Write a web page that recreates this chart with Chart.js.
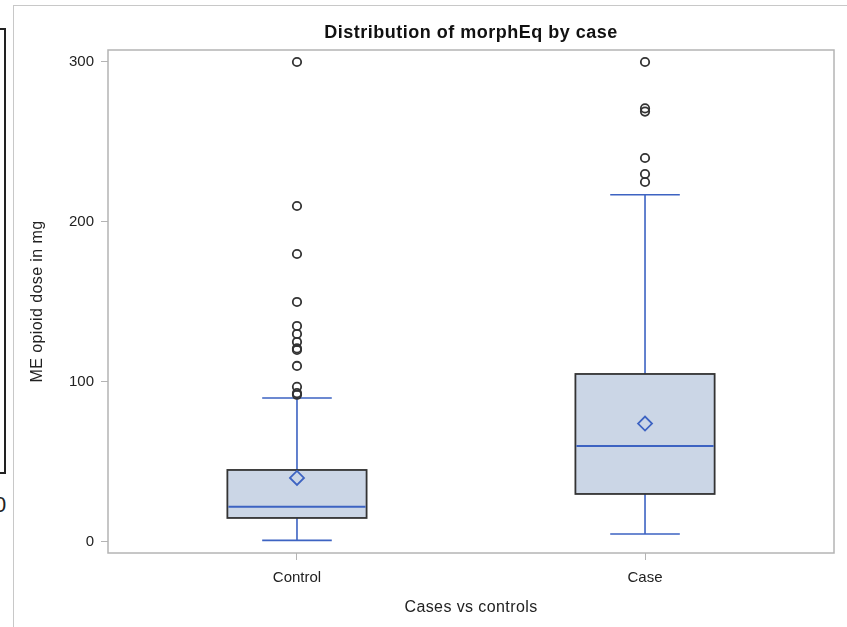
<!DOCTYPE html>
<html>
<head>
<meta charset="utf-8">
<script src="https://cdn.jsdelivr.net/npm/chart.js@4/dist/chart.umd.min.js"></script>
<style>
  html, body { margin: 0; padding: 0; background: #fff; }
  #wrap { position: relative; width: 847px; height: 627px; overflow: hidden; }
  #frameTop { position: absolute; left: 13px; top: 5px; right: 0; height: 1px; background: #c8c8c8; }
  #frameLeft { position: absolute; left: 13px; top: 5px; bottom: 0; width: 1px; background: #c8c8c8; }
  #sideBox { position: absolute; left: -4px; top: 28px; width: 6px; height: 442px; border: 2px solid #222; }
  #sideZero { position: absolute; left: -6px; top: 492px; font: 22px "Liberation Sans", Arial, sans-serif; color: #222; }
  #c { position: absolute; left: 0; top: 0; }
</style>
</head>
<body>
<div id="wrap">
  <div id="frameTop"></div>
  <div id="frameLeft"></div>
  <div id="sideBox"></div>
  <div id="sideZero">0</div>
  <canvas id="c" width="847" height="627"></canvas>
</div>
<script>
// data
var categories = ['Control', 'Case'];
var whiskerLow = [1, 5];
var q1 = [15, 30];
var median = [22, 60];
var q3 = [45, 105];
var whiskerHigh = [90, 217];
var means = [40, 74];
var outliersControl = [92, 93, 97, 110, 120, 121, 125, 130, 135, 150, 180, 210, 300];
var outliersCase = [225, 230, 240, 269, 271, 300];
var yTicks = [0, 100, 200, 300];

var chartTitle = 'Distribution of morphEq by case';
var xTitle = 'Cases vs controls';
var yTitle = 'ME opioid dose in mg';

var FONT = '"Liberation Sans", Arial, sans-serif';

var outlierPoints = [];
outliersControl.forEach(function(v){ outlierPoints.push({x: 1, y: v}); });
outliersCase.forEach(function(v){ outlierPoints.push({x: 2, y: v}); });
var meanPoints = means.map(function(v, i){ return {x: i + 1, y: v}; });

// boxes and whiskers drawn through the chart scales
var boxPlugin = {
	id: 'boxes',
	beforeDatasetsDraw: function(chart){
		var ctx = chart.ctx;
		var xs = chart.scales.x, ys = chart.scales.y;
		var area = chart.chartArea;

		ctx.save();
		// plot frame
		ctx.strokeStyle = '#b4b4b4';
		ctx.lineWidth = 1.5;
		ctx.strokeRect(area.left, area.top, area.right - area.left, area.bottom - area.top);

		for (var i = 0; i < categories.length; i++){
			var cx = xs.getPixelForValue(i + 1);
			var l = xs.getPixelForValue(i + 1 - 0.2), r = xs.getPixelForValue(i + 1 + 0.2);
			var cl = xs.getPixelForValue(i + 1 - 0.1), cr = xs.getPixelForValue(i + 1 + 0.1);
			var yLo = ys.getPixelForValue(whiskerLow[i]);
			var yQ1 = ys.getPixelForValue(q1[i]);
			var yMed = ys.getPixelForValue(median[i]);
			var yQ3 = ys.getPixelForValue(q3[i]);
			var yHi = ys.getPixelForValue(whiskerHigh[i]);

			ctx.strokeStyle = '#3d63c2';
			ctx.lineWidth = 1.6;
			ctx.beginPath();
			ctx.moveTo(cx, yLo); ctx.lineTo(cx, yQ1);
			ctx.moveTo(cx, yQ3); ctx.lineTo(cx, yHi);
			ctx.moveTo(cl, yLo); ctx.lineTo(cr, yLo);
			ctx.moveTo(cl, yHi); ctx.lineTo(cr, yHi);
			ctx.stroke();

			ctx.fillStyle = '#cbd6e6';
			ctx.fillRect(l, yQ3, r - l, yQ1 - yQ3);
			ctx.strokeStyle = '#333333';
			ctx.lineWidth = 1.8;
			ctx.strokeRect(l, yQ3, r - l, yQ1 - yQ3);

			ctx.strokeStyle = '#3d63c2';
			ctx.lineWidth = 2;
			ctx.beginPath();
			ctx.moveTo(l + 1, yMed); ctx.lineTo(r - 1, yMed);
			ctx.stroke();
		}
		ctx.restore();
	}
};

// titles centred on the plot area like SAS does
var titlePlugin = {
	id: 'sasTitles',
	afterDraw: function(chart){
		var ctx = chart.ctx;
		var area = chart.chartArea;
		var mid = (area.left + area.right) / 2;

		ctx.save();
		ctx.fillStyle = '#111';
		ctx.textAlign = 'center';
		ctx.textBaseline = 'alphabetic';

		ctx.letterSpacing = '0.5px';
		ctx.font = 'bold 18px ' + FONT;
		ctx.fillText(chartTitle, mid, 38);

		ctx.fillStyle = '#222';
		ctx.letterSpacing = '0.4px';
		ctx.font = '16px ' + FONT;
		ctx.fillText(xTitle, mid, 612);

		ctx.translate(42, (area.top + area.bottom) / 2);
		ctx.rotate(-Math.PI / 2);
		ctx.fillText(yTitle, 0, 0);
		ctx.restore();
	}
};

var chart = new Chart(document.getElementById('c'), {
	type: 'scatter',
	data: {
		datasets: [{
			label: 'Outliers',
			data: outlierPoints,
			pointStyle: 'circle',
			pointRadius: 4.2,
			pointBorderWidth: 1.8,
			pointBorderColor: '#333333',
			pointBackgroundColor: 'rgba(255,255,255,0)'
		}, {
			label: 'Mean',
			data: meanPoints,
			pointStyle: 'rectRot',
			pointRadius: 7,
			pointBorderWidth: 1.8,
			pointBorderColor: '#3d63c2',
			pointBackgroundColor: 'rgba(255,255,255,0)'
		}]
	},
	options: {
		responsive: false,
		animation: false,
		events: [],
		layout: { padding: { left: 20, right: 13, top: 50, bottom: 0 } },
		plugins: {
			legend: { display: false },
			tooltip: { enabled: false },
			title: { display: false }
		},
		scales: {
			x: {
				type: 'linear',
				min: 0.457,
				max: 2.543,
				afterBuildTicks: function(scale){
					scale.ticks = categories.map(function(c, i){ return {value: i + 1}; });
				},
				afterFit: function(scale){ scale.height = 74; },
				ticks: {
					color: '#222',
					font: { family: FONT, size: 15 },
					padding: 9,
					callback: function(v){ return categories[v - 1]; }
				},
				grid: { drawOnChartArea: false, drawTicks: true, tickLength: 7, color: '#b4b4b4' },
				border: { display: false }
			},
			y: {
				type: 'linear',
				min: -6.9,
				max: 307.5,
				afterBuildTicks: function(scale){
					scale.ticks = yTicks.map(function(v){ return {value: v}; });
				},
				afterFit: function(scale){ scale.width = 88; },
				ticks: {
					color: '#222',
					font: { family: FONT, size: 15 },
					padding: 7
				},
				grid: { drawOnChartArea: false, drawTicks: true, tickLength: 7, color: '#b4b4b4' },
				border: { display: false }
			}
		}
	},
	plugins: [boxPlugin, titlePlugin]
});
</script>
</body>
</html>
